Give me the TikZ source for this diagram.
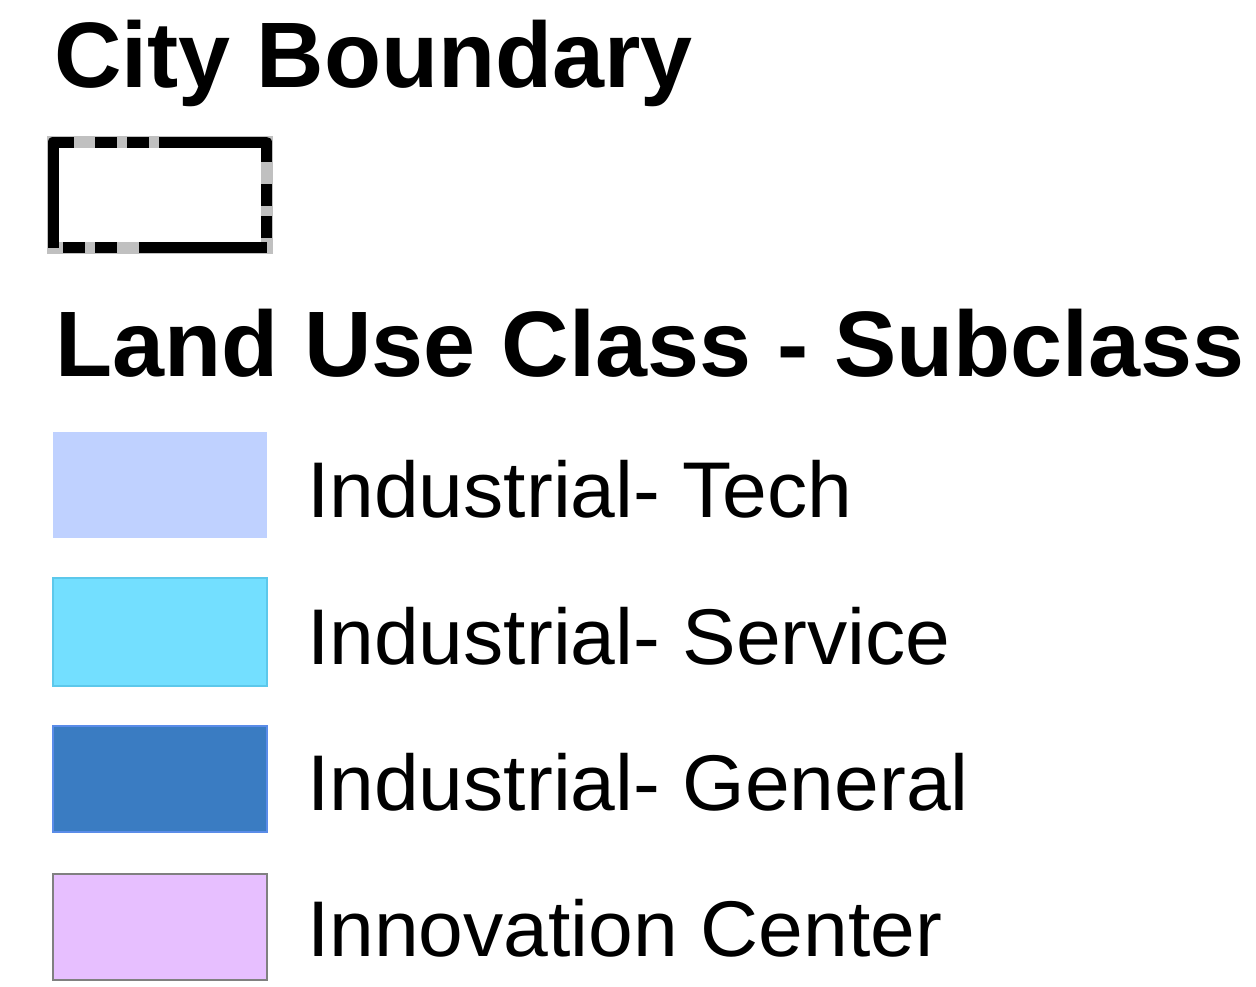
\documentclass[tikz,border=0pt]{standalone}
\usepackage{fontspec}
\setmainfont{Liberation Sans}
\definecolor{techfill}{RGB}{191,209,255}
\definecolor{servfill}{RGB}{115,223,255}
\definecolor{servline}{RGB}{92,200,235}
\definecolor{genfill}{RGB}{58,124,194}
\definecolor{genline}{RGB}{90,140,232}
\definecolor{innofill}{RGB}{231,191,255}
\definecolor{innoline}{RGB}{128,128,128}
\definecolor{bndgray}{RGB}{192,192,192}
\newcommand{\hw}[1]{\scalebox{1.005}[1]{#1}}
\newcommand{\lw}[1]{\scalebox{1.018}[1]{#1}}
\begin{document}
\begin{tikzpicture}[x=1pt,y=-1pt,
  heading/.style={anchor=base west,inner sep=0pt,font=\fontsize{93}{100}\selectfont\bfseries},
  label/.style={anchor=base west,inner sep=0pt,font=\fontsize{79}{86}\selectfont},
  swatch/.style={anchor=north west,inner sep=0pt,minimum width=214pt,minimum height=106pt,outer sep=0pt},
  bnddash/.style={black,line width=11pt,line join=round}]
\useasboundingbox (0,0) rectangle (1256,986);
\fill[white] (0,0) rectangle (1256,986);
% City boundary
\node[heading] (t1) at (54,87.5) {\hw{City Boundary}};
\coordinate (b1) at (53,142);
\coordinate (b2) at (266.5,247.5);
\draw[bndgray,line width=12pt] (b1) rectangle (b2);
\draw[bnddash] (53,247.5) -- (b1) -- (74,142);
\draw[bnddash] (95,142) -- (117,142);
\draw[bnddash] (127,142) -- (149,142);
\draw[bnddash] (159,142) -- (b1 -| b2) -- (266.5,162);
\draw[bnddash] (266.5,184) -- (266.5,206);
\draw[bnddash] (266.5,216) -- (266.5,238);
\draw[bnddash] (b2) -- (139,247.5);
\draw[bnddash] (117,247.5) -- (95,247.5);
\draw[bnddash] (85,247.5) -- (63,247.5);
% Land use
\node[heading] (t2) at (55,376) {\hw{Land Use Class - Subclass}};
\node[swatch,fill=techfill] (s1) at (53,432) {};
\node[swatch,fill=servfill,draw=servline,line width=1.5pt,minimum height=108pt] (s2) at (53,578) {};
\node[swatch,fill=genfill,draw=genline,line width=1.5pt] (s3) at (53,726) {};
\node[swatch,fill=innofill,draw=innoline,line width=2pt] (s4) at (53,873.5) {};
\node[label] (l1) at (307,517.3) {\lw{Industrial- Tech}};
\node[label] (l2) at (307,664) {\lw{Industrial- Service}};
\node[label] (l3) at (307,810) {\lw{Industrial- General}};
\node[label] (l4) at (307,956.5) {\lw{Innovation Center}};
\end{tikzpicture}
\end{document}
